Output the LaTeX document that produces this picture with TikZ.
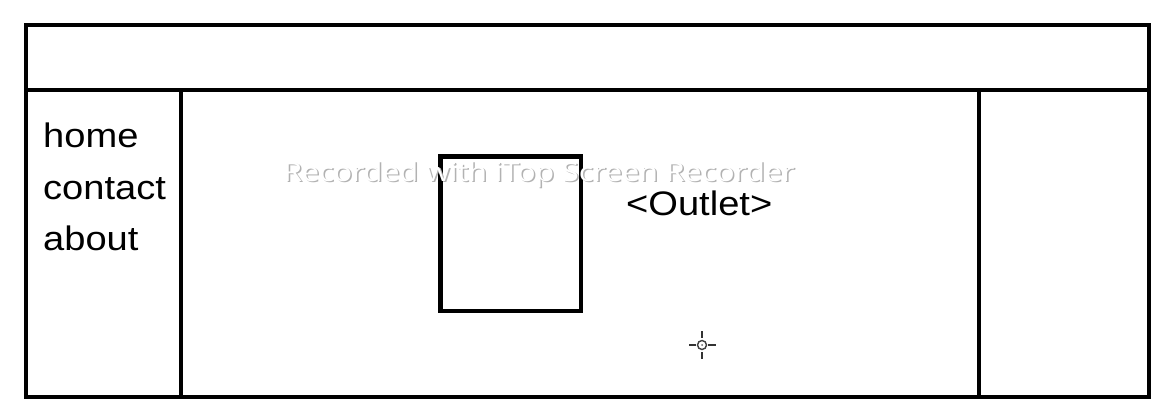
\documentclass[tikz,border=0pt]{standalone}
\usepackage{fontspec}
\setmainfont{Liberation Sans}
\newfontfamily\wmfont{Open Sans}
\begin{document}
\begin{tikzpicture}[x=1pt,y=-1pt,
  frame/.style={draw=black,line width=4.5pt},
  navtext/.style={inner sep=0pt,anchor=base west,font=\fontsize{34}{40}\selectfont},
  wm/.style={inner sep=0pt,anchor=base,font=\wmfont\fontsize{26}{30}\selectfont}]
\useasboundingbox (0,0) rectangle (1165,413);
\fill[white] (0,0) rectangle (1165,413);
% frame
\coordinate (tl) at (26,25);
\coordinate (br) at (1149,397);
\coordinate (hl) at (26,90);
\coordinate (hr) at (1149,90);
\coordinate (lt) at (181,90);
\coordinate (lb) at (181,397);
\coordinate (rt) at (979,90);
\coordinate (rb) at (979,397);
\draw[frame] (tl) rectangle (br);
\draw[frame] (hl) -- (hr);
\draw[frame] (lt) -- (lb);
\draw[frame] (rt) -- (rb);
% inner box
\coordinate (btl) at (440.5,156.5);
\coordinate (bbr) at (581,311);
\draw[frame] (btl) rectangle (bbr);
% nav texts
\node[navtext] (home) at (43,147) {\scalebox{1.12}[1]{home}};
\node[navtext] (contact) at (43,199) {\scalebox{1.12}[1]{contact}};
\node[navtext] (about) at (43,250) {\scalebox{1.12}[1]{about}};
\node[navtext] (outlet) at (626,215) {\scalebox{1.12}[1]{<Outlet>}};
% watermark
\node[wm,text=black!30] (wmshadow) at (540.5,182.5) {\scalebox{1.17}[1]{Recorded with iTop Screen Recorder}};
\node[wm,text=white] (wmtext) at (539,181) {\scalebox{1.17}[1]{Recorded with iTop Screen Recorder}};
% cursor
\coordinate (cur) at (702,345);
\draw[black!75,line width=1.4pt] (cur) circle (4.5);
\draw[black!80,line width=2pt] (689,345) -- (696,345) (708,345) -- (716,345)
  (702,331) -- (702,338) (702,352) -- (702,359);
\fill[black!60] (cur) circle (1);
\end{tikzpicture}
\end{document}
